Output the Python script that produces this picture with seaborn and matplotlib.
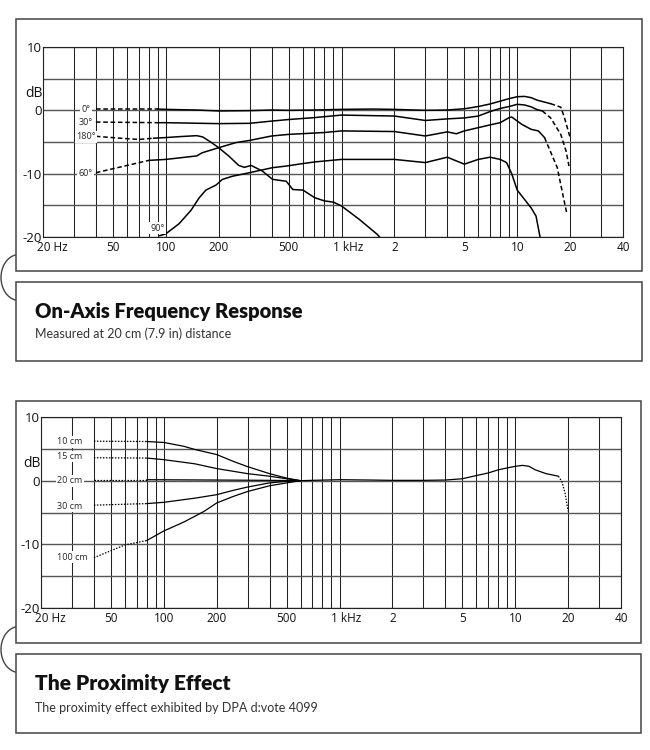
import matplotlib
matplotlib.use("Agg")
import matplotlib.pyplot as plt
from matplotlib.patches import Rectangle, Arc
from matplotlib.transforms import ScaledTranslation, blended_transform_factory
import seaborn as sns
import pandas as pd

# ---- axes layout values ----
grid_freqs = [20, 30, 40, 50, 60, 70, 80, 90, 100, 200, 300, 400, 500, 600, 700, 800, 900,
              1000, 2000, 3000, 4000, 5000, 6000, 7000, 8000, 9000, 10000, 20000, 30000, 40000]
tick_freqs = [20, 50, 100, 200, 500, 1000, 2000, 5000, 10000, 20000, 40000]
tick_labels = ['20 Hz', '50', '100', '200', '500', '1 kHz', '2', '5', '10', '20', '40']
db_ticks = [-20, -10, 0, 10]
db_grid = [-15, -5, 5]

# ---- top chart: on-axis / polar response ----
deg0_lo_f = [40, 90]
deg0_lo_db = [0.2, 0.2]
deg0_f = [90, 100, 150, 200, 300, 400, 500, 700, 1000, 1500, 2000, 3000, 4000, 5000, 6000,
          7000, 8000, 9000, 10000, 11000, 12000, 13000, 15500]
deg0_db = [0.2, 0.15, 0.05, -0.1, -0.05, 0.05, 0.0, 0.05, 0.15, 0.2, 0.15, 0.0, 0.05, 0.25, 0.6,
           1.0, 1.45, 1.85, 2.15, 2.2, 2.0, 1.6, 1.05]
deg0_hi_f = [15500, 17700, 18500, 19300, 20000]
deg0_hi_db = [1.05, 0.5, -1.0, -2.8, -4.3]

deg30_lo_f = [40, 90]
deg30_lo_db = [-1.85, -1.95]
deg30_f = [90, 100, 200, 300, 400, 500, 700, 1000, 2000, 3000, 4000, 5000, 6000, 7000, 8000,
           9000, 10000, 11000, 12000, 13000, 13900]
deg30_db = [-1.95, -1.95, -2.1, -2.05, -1.7, -1.45, -1.15, -0.75, -0.9, -1.6, -1.35, -1.2, -0.9,
            -0.2, 0.3, 0.6, 0.95, 0.85, 0.55, 0.1, -0.1]
deg30_hi_f = [13900, 15500, 17700, 19000, 19700]
deg30_hi_db = [-0.1, -1.2, -3.8, -6.5, -8.8]

deg60_lo_f = [40, 80]
deg60_lo_db = [-9.85, -7.9]
deg60_f = [80, 100, 150, 161, 200, 250, 300, 400, 500, 800, 1000, 2000, 3000, 4000, 4500,
           5000, 7000, 8000, 9000, 9300, 10600, 12000, 13200, 14300]
deg60_db = [-7.9, -7.75, -7.2, -6.7, -5.9, -5.1, -4.75, -4.05, -3.8, -3.5, -3.25, -3.35, -4.05,
            -3.4, -3.7, -3.25, -2.3, -1.95, -1.15, -1.05, -2.2, -3.0, -3.25, -4.3]
deg60_hi_f = [14300, 16900, 18500, 19200]
deg60_hi_db = [-4.3, -9.05, -14.3, -16.4]

deg90_f = [92, 100, 119, 139, 155, 169, 193, 210, 240, 299, 405, 485, 604, 704, 802, 1000,
           2000, 3000, 4000, 5000, 6000, 7000, 8000, 8700, 9300, 10000, 12000, 12800, 13400, 13600]
deg90_db = [-19.8, -19.5, -17.9, -15.8, -13.8, -12.6, -11.8, -10.9, -10.4, -9.85, -9.05, -8.8,
            -8.4, -8.15, -8.0, -7.75, -7.75, -8.25, -7.4, -8.5, -7.75, -7.4, -7.75, -8.25, -10.0,
            -12.6, -15.4, -16.7, -19.6, -20.5]

deg180_lo_f = [40, 55, 70, 85]
deg180_lo_db = [-4.1, -4.4, -4.6, -4.4]
deg180_f = [85, 100, 120, 150, 162, 180, 200, 230, 260, 280, 306, 355, 405, 485, 528, 604, 704,
            800, 900, 1000, 1260, 1600, 1700]
deg180_db = [-4.4, -4.3, -4.15, -4.0, -4.2, -5.0, -5.9, -7.3, -8.7, -9.0, -8.7, -9.6, -10.9,
             -11.2, -12.5, -12.6, -13.8, -14.3, -14.5, -15.1, -17.2, -19.6, -20.5]

# ---- bottom chart: proximity effect ----
cm10_lo_f = [40, 80]
cm10_lo_db = [6.2, 6.15]
cm10_f = [80, 100, 130, 150, 200, 250, 300, 400, 500, 600]
cm10_db = [6.15, 6.0, 5.4, 4.9, 4.1, 3.0, 2.2, 1.1, 0.4, 0.0]
cm15_lo_f = [40, 80]
cm15_lo_db = [3.6, 3.55]
cm15_f = [80, 100, 150, 200, 300, 400, 500, 600]
cm15_db = [3.55, 3.3, 2.65, 1.9, 1.1, 0.7, 0.3, 0.0]
cm20_lo_f = [40, 80]
cm20_lo_db = [0.15, 0.15]
cm20_f = [80, 200, 400, 600]
cm20_db = [0.15, 0.1, 0.05, 0.0]
cm30_lo_f = [40, 80]
cm30_lo_db = [-3.85, -3.6]
cm30_f = [80, 100, 150, 200, 250, 300, 400, 500, 600]
cm30_db = [-3.6, -3.4, -2.75, -2.2, -1.5, -1.0, -0.35, -0.1, 0.0]
cm100_lo_f = [40, 60, 80]
cm100_lo_db = [-12.1, -10.1, -9.4]
cm100_f = [80, 100, 130, 150, 170, 200, 250, 300, 400, 500, 600]
cm100_db = [-9.4, -7.9, -6.5, -5.6, -4.8, -3.5, -2.45, -1.7, -0.8, -0.35, 0.0]
common_f = [600, 700, 1000, 1500, 2000, 3000, 4000, 5000, 6000, 7000, 8000, 9000, 10000, 11000,
            12000, 13000, 15000, 17600]
common_db = [0.0, 0.05, 0.15, 0.1, 0.05, 0.05, 0.1, 0.3, 0.8, 1.2, 1.7, 2.0, 2.25, 2.4, 2.25,
             1.7, 1.1, 0.7]
common_hi_f = [17600, 18400, 19200, 20000]
common_hi_db = [0.7, -0.1, -1.9, -4.8]


def segments(parts):
    rows = []
    for i, (f, d, style) in enumerate(parts):
        for x, y in zip(f, d):
            rows.append({'freq': x, 'db': y, 'seg': i, 'style': style})
    return pd.DataFrame(rows)


top_df = segments([
    (deg0_lo_f, deg0_lo_db, 'dash'), (deg0_f, deg0_db, 'solid'), (deg0_hi_f, deg0_hi_db, 'dash'),
    (deg30_lo_f, deg30_lo_db, 'dash'), (deg30_f, deg30_db, 'solid'), (deg30_hi_f, deg30_hi_db, 'dash'),
    (deg60_lo_f, deg60_lo_db, 'dash'), (deg60_f, deg60_db, 'solid'), (deg60_hi_f, deg60_hi_db, 'dash'),
    (deg90_f, deg90_db, 'solid'),
    (deg180_lo_f, deg180_lo_db, 'dash'), (deg180_f, deg180_db, 'solid'),
])
bot_df = segments([
    (cm10_lo_f, cm10_lo_db, 'dash'), (cm10_f, cm10_db, 'solid'),
    (cm15_lo_f, cm15_lo_db, 'dash'), (cm15_f, cm15_db, 'solid'),
    (cm20_lo_f, cm20_lo_db, 'dash'), (cm20_f, cm20_db, 'solid'),
    (cm30_lo_f, cm30_lo_db, 'dash'), (cm30_f, cm30_db, 'solid'),
    (cm100_lo_f, cm100_lo_db, 'dash'), (cm100_f, cm100_db, 'solid'),
    (common_f, common_db, 'solid'), (common_hi_f, common_hi_db, 'dash'),
])

sns.set_theme(style="white")
plt.rcParams['font.family'] = ['Open Sans', 'DejaVu Sans']

fig = plt.figure(figsize=(6.5, 7.5), dpi=100)
ax_top = fig.add_axes([43 / 650, 1 - 237 / 750, 580 / 650, 190 / 750])
ax_bot = fig.add_axes([41 / 650, 1 - 608 / 750, 580 / 650, 191 / 750])


def setup(ax):
    ax.set_xscale('log')
    ax.set_xlim(20, 40000)
    ax.set_ylim(-20, 10)
    for f in grid_freqs:
        ax.axvline(f, color='#222222', lw=0.75, zorder=1)
    for d in db_ticks + db_grid:
        ax.axhline(d, color='#555555', lw=1.0, zorder=1)
    ax.set_xticks(tick_freqs)
    ax.set_xticklabels(tick_labels)
    ax.xaxis.set_minor_locator(plt.NullLocator())
    ax.set_yticks(db_ticks)
    ax.set_yticklabels([str(t) for t in db_ticks])
    ax.tick_params(axis='both', length=0, labelsize=8.5, colors='#111111')
    ax.tick_params(axis='x', pad=3)
    ax.tick_params(axis='y', pad=1, labelsize=9.5)
    for s in ax.spines.values():
        s.set_color('#222222')
        s.set_linewidth(0.8)
    ax.set_xlabel('')
    ax.set_ylabel('')
    labs = ax.get_xticklabels()
    labs[0].set_transform(labs[0].get_transform() + ScaledTranslation(0.09, 0, fig.dpi_scale_trans))
    labs[5].set_transform(labs[5].get_transform() + ScaledTranslation(0.07, 0, fig.dpi_scale_trans))
    trans = blended_transform_factory(ax.transAxes, ax.transData)
    ax.text(-0.016, 2.7, 'dB', transform=trans, ha='center', va='center', fontsize=10, color='#111111')


sns.lineplot(data=top_df, x='freq', y='db', units='seg', estimator=None, style='style',
             dashes={'solid': '', 'dash': (3.0, 1.8)}, color='black', lw=1.1,
             legend=False, sort=False, ax=ax_top, zorder=3)
setup(ax_top)

sns.lineplot(data=bot_df, x='freq', y='db', units='seg', estimator=None, style='style',
             dashes={'solid': '', 'dash': (1.2, 1.2)}, color='black', lw=0.9,
             legend=False, sort=False, ax=ax_bot, zorder=3)
setup(ax_bot)

box = dict(boxstyle='square,pad=0.15', fc='white', ec='none')
for txt, y in [('0°', 0.1), ('30°', -1.85), ('180°', -4.2), ('60°', -10.0)]:
    ax_top.text(35, y, txt, ha='center', va='center', fontsize=6.5, bbox=box, zorder=4)
ax_top.text(90, -18.6, '90°', ha='center', va='center', fontsize=6.5, bbox=box, zorder=4)

for txt, y in [('10 cm', 6.1), ('15 cm', 3.8), ('20 cm', 0.0), ('30 cm', -4.0), ('100 cm', -12.0)]:
    ax_bot.text(24.7, y, txt, ha='left', va='center', fontsize=6.5, bbox=box, zorder=4)

# ---- frames, captions, connectors ----
def px_rect(x0, y0, x1, y1):
    r = Rectangle((x0 / 650, 1 - y1 / 750), (x1 - x0) / 650, (y1 - y0) / 750,
                  transform=fig.transFigure, fill=False, ec='#444444', lw=1.1, zorder=0)
    fig.add_artist(r)


px_rect(16, 19, 642, 271)
px_rect(16, 282, 642, 361)
px_rect(16, 401, 641, 643)
px_rect(16, 654, 641, 733)

for yc in [277.5, 649.5]:
    a = Arc((0.19, (750 - yc) / 100), 0.36, 0.46, theta1=98, theta2=262,
            transform=fig.dpi_scale_trans, color='#444444', lw=1.0)
    fig.add_artist(a)

cap_font = ['Lato', 'DejaVu Sans']
fig.text(35 / 650, 1 - 318 / 750, 'On-Axis Frequency Response', fontsize=14.5, fontweight='heavy',
         family=cap_font, color='#111111', va='baseline')
fig.text(35 / 650, 1 - 338 / 750, 'Measured at 20 cm (7.9 in) distance', fontsize=9,
         fontweight='normal', family=cap_font, color='#333333', va='baseline')
fig.text(35 / 650, 1 - 690 / 750, 'The Proximity Effect', fontsize=15, fontweight='heavy',
         family=cap_font, color='#111111', va='baseline')
fig.text(35 / 650, 1 - 712 / 750, 'The proximity effect exhibited by DPA d:vote 4099', fontsize=9,
         fontweight='normal', family=cap_font, color='#333333', va='baseline')

fig.savefig('out.png', dpi=100)
